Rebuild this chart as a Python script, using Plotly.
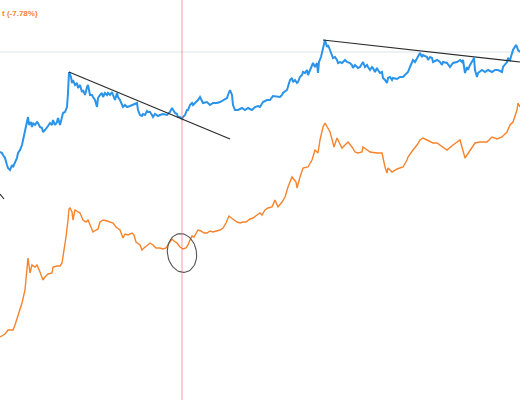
import numpy as np
import plotly.graph_objects as go

# blue series (upper line), x = bar index, y = screen-level value
blue_x = [0, 2, 3, 5, 7, 8, 10, 12, 13, 15, 17, 18, 20, 22, 23, 25, 27, 28, 29, 31,
          32, 33, 35, 37, 38, 40, 42, 43, 45, 47, 48, 50, 52, 53, 55, 57, 58, 60, 62, 63,
          65, 67, 68, 69, 71, 72, 73, 75, 77, 78, 80, 82, 83, 85, 87, 88, 90, 92, 93, 95,
          97, 98, 100, 102, 103, 105, 107, 108, 110, 112, 113, 115, 117, 118, 120, 122, 123, 125, 127, 130,
          133, 137, 138, 140, 142, 143, 145, 147, 148, 150, 152, 153, 155, 157, 158, 160, 163, 167, 170, 172,
          173, 175, 177, 178, 180, 182, 183, 185, 187, 188, 190, 192, 193, 195, 197, 198, 200, 202, 203, 207,
          210, 213, 217, 220, 223, 227, 228, 230, 232, 233, 235, 238, 242, 245, 248, 252, 255, 258, 260,
          263, 267, 270, 273, 277, 280, 282, 283, 287, 290, 292, 293, 295, 297, 298, 300, 302, 303, 305, 307,
          308, 310, 312, 313, 315, 317, 318, 319, 321, 323, 325, 327, 328, 330, 332, 333, 335, 337, 338, 340,
          342, 343, 345, 347, 350, 352, 353, 355, 357, 358, 360, 362, 363, 365, 367, 368, 370, 372, 373, 375,
          377, 378, 380, 382, 383, 385, 387, 388, 390, 392, 393, 397, 400, 403, 407, 408, 410, 412, 413, 415,
          417, 420, 422, 423, 427, 428, 430, 432, 433, 437, 440, 442, 443, 447, 450, 452, 453, 457, 460, 462,
          463, 465, 467, 468, 470, 473, 474, 475, 477, 478, 482, 485, 488, 492, 495, 498, 502, 503, 507, 508,
          510, 513, 516, 517, 518, 520]
blue_y = [152, 153, 155, 158, 165, 168, 170, 165, 167, 162, 158, 153, 150, 145, 140, 130, 122, 117, 125, 122,
          127, 123, 125, 122, 123, 127, 128, 132, 130, 128, 126, 123, 125, 120, 125, 122, 118, 125, 118, 113,
          112, 107, 93, 72, 77, 83, 80, 85, 83, 88, 85, 92, 90, 95, 87, 85, 95, 95, 97, 100,
          107, 98, 95, 93, 97, 93, 95, 93, 95, 92, 95, 100, 93, 97, 100, 105, 107, 105, 107, 106,
          105, 103, 110, 115, 116, 114, 115, 111, 112, 112, 115, 117, 114, 115, 116, 115, 114, 115, 112, 108,
          110, 113, 114, 117, 117, 119, 117, 115, 110, 110, 105, 103, 105, 103, 102, 100, 97, 102, 103, 102,
          105, 103, 103, 102, 100, 98, 95, 90, 95, 105, 110, 110, 108, 110, 108, 110, 107, 106, 107,
          102, 100, 100, 96, 97, 97, 95, 93, 90, 80, 78, 82, 80, 83, 82, 77, 75, 72, 73, 70,
          75, 70, 67, 63, 67, 63, 73, 62, 57, 48, 40, 47, 45, 50, 55, 58, 57, 60, 63, 62,
          63, 62, 60, 62, 63, 65, 68, 65, 67, 68, 67, 63, 62, 67, 65, 67, 70, 67, 68, 72,
          68, 70, 73, 72, 78, 80, 83, 78, 77, 80, 78, 79, 77, 77, 73, 72, 67, 63, 60, 62,
          58, 53, 57, 55, 57, 60, 57, 58, 62, 60, 62, 65, 62, 63, 67, 65, 63, 62, 60, 62,
          60, 73, 67, 70, 65, 60, 58, 70, 77, 73, 70, 72, 70, 72, 70, 70, 72, 67, 62, 58,
          60, 50, 45, 47, 50, 52]

# orange series (lower line)
orange_x = [0, 5, 8, 13, 15, 18, 22, 25, 27, 28, 30, 32, 35, 37, 40, 43, 45, 48, 52, 53,
            57, 60, 62, 64, 66, 68, 69, 70, 72, 73, 75, 78, 80, 83, 86, 88, 91, 93, 96, 98,
            100, 103, 107, 110, 113, 116, 120, 123, 125, 128, 132, 134, 136, 140, 142, 144, 147, 150, 153, 156,
            160, 163, 166, 170, 172, 174, 177, 180, 183, 186, 188, 190, 192, 194, 196, 198, 201, 204, 207, 210,
            213, 216, 220, 223, 226, 229, 231, 234, 237, 240, 243, 246, 250, 253, 257, 260,
            262, 265, 268, 272, 275, 278, 282, 285, 288, 292, 296, 297, 300, 303, 308, 312, 315, 318, 320, 323,
            325, 328, 330, 333, 334, 337, 338, 342, 345, 348, 352, 355, 358, 362, 363, 367, 370, 377, 382, 385,
            387, 388, 392, 397, 403, 407, 408, 413, 417, 420, 423, 427, 433, 437, 440, 447, 453, 458, 460, 465,
            470, 475, 480, 487, 492, 497, 502, 507, 510, 513, 517, 518, 520]
orange_y = [337, 334, 330, 330, 325, 315, 303, 290, 270, 258, 273, 265, 267, 265, 272, 280, 277, 274, 273, 267,
            266, 266, 263, 252, 237, 220, 209, 208, 212, 220, 210, 212, 213, 220, 222, 220, 228, 232, 230, 229,
            222, 220, 221, 222, 223, 227, 230, 238, 234, 235, 233, 235, 242, 245, 250, 248, 245, 243, 245, 248,
            248, 249, 248, 242, 239, 241, 243, 247, 249, 248, 245, 240, 236, 237, 233, 230, 231, 233, 233, 231,
            232, 231, 230, 228, 223, 216, 218, 220, 222, 223, 222, 222, 219, 218, 215, 213,
            215, 210, 208, 207, 200, 207, 202, 197, 187, 177, 182, 188, 177, 168, 167, 160, 150, 153, 140, 127,
            123, 128, 132, 143, 147, 138, 140, 148, 145, 142, 147, 152, 153, 152, 147, 150, 152, 153, 153, 167,
            173, 168, 172, 169, 167, 160, 157, 150, 145, 140, 138, 140, 143, 143, 145, 150, 145, 142, 140, 158,
            150, 143, 142, 142, 137, 139, 137, 132, 125, 122, 110, 103, 107]

# drawings on top of the chart
trend1 = [(69, 72), (230, 139)]
trend2 = [(323, 40), (520, 62)]
trend3 = [(0, 194), (4, 199)]
marker_x = 182
level_y = 52
ellipse_c = (182, 253)
ellipse_ax = (14.5, 19.5)
ellipse_tilt = -10  # degrees
label_text = "<b>t (-7.78%)</b>"

fig = go.Figure()

fig.add_trace(go.Scatter(x=orange_x, y=orange_y, mode="lines",
                         line=dict(color="#f7832b", width=1.4), hoverinfo="skip"))
fig.add_trace(go.Scatter(x=blue_x, y=blue_y, mode="lines",
                         line=dict(color="#2a93ea", width=2), hoverinfo="skip"))

# horizontal level and vertical marker
fig.add_shape(type="line", x0=0, x1=520, y0=level_y, y1=level_y,
              line=dict(color="#dbe4ea", width=1), layer="below")
fig.add_shape(type="line", x0=marker_x, x1=marker_x, y0=0, y1=400,
              line=dict(color="rgba(242,110,120,0.45)", width=1.5))

for seg in (trend1, trend2, trend3):
    fig.add_shape(type="line", x0=seg[0][0], y0=seg[0][1], x1=seg[1][0], y1=seg[1][1],
                  line=dict(color="#2b2b2b", width=1.2))

# tilted ellipse
t = np.linspace(0, 2 * np.pi, 60)
a = np.radians(ellipse_tilt)
ex = ellipse_c[0] + ellipse_ax[0] * np.cos(t) * np.cos(a) - ellipse_ax[1] * np.sin(t) * np.sin(a)
ey = ellipse_c[1] + ellipse_ax[0] * np.cos(t) * np.sin(a) + ellipse_ax[1] * np.sin(t) * np.cos(a)
fig.add_trace(go.Scatter(x=ex, y=ey, mode="lines",
                         line=dict(color="#555555", width=1.1), hoverinfo="skip"))

fig.add_annotation(x=0, y=13, text=label_text, showarrow=False, xanchor="left",
                   font=dict(family="Liberation Sans, Arial", size=8, color="#f7832b"))

fig.update_xaxes(range=[0, 520], visible=False)
fig.update_yaxes(range=[400, 0], visible=False)
fig.update_layout(width=520, height=400, margin=dict(l=0, r=0, t=0, b=0),
                  plot_bgcolor="white", paper_bgcolor="white", showlegend=False)

# page body has an 8px default margin; drop it so the figure fills the window
fig.write_html("out.html", config={"displayModeBar": False},
               post_script="document.body.style.margin='0';"
                           "document.body.style.overflow='hidden';")
